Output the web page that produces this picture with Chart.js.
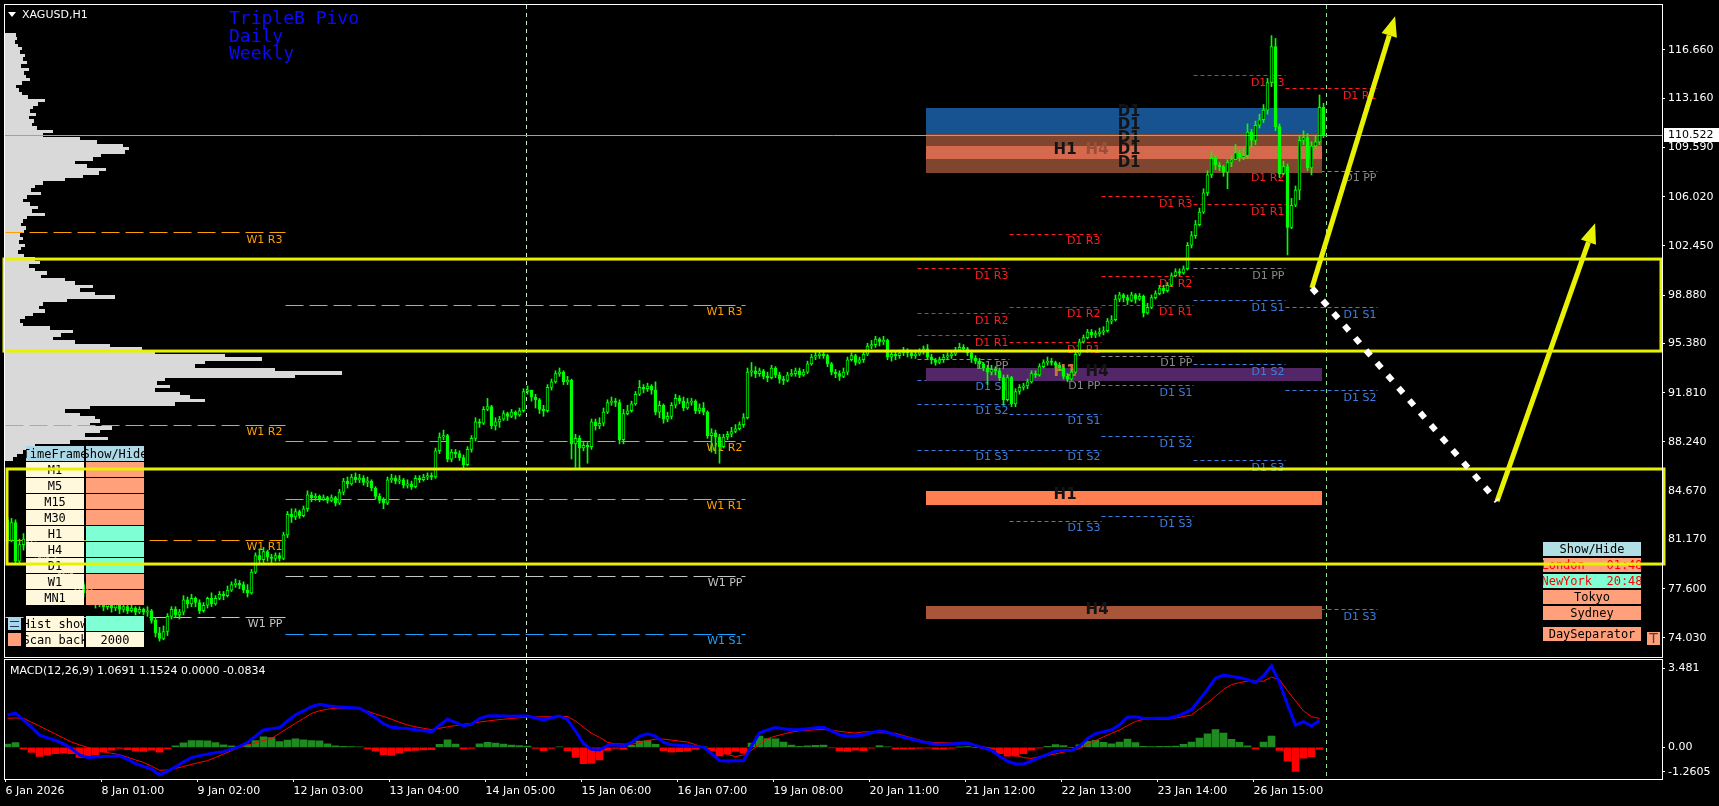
<!DOCTYPE html>
<html>
<head>
<meta charset="utf-8">
<title>XAGUSD,H1</title>
<script src="https://cdn.jsdelivr.net/npm/chart.js"></script>
<style>
  html, body { margin: 0; padding: 0; background: #000; }
  #wrap { position: relative; width: 1719px; height: 806px; background: #000; overflow: hidden; }
  #wrap canvas { position: absolute; left: 0; }
</style>
</head>
<body>
<div id="wrap">
  <canvas id="priceChart" width="1719" height="658" style="top:0"></canvas>
  <canvas id="macdChart" width="1719" height="148" style="top:658px"></canvas>
</div>
<script>
// H1 candles, the open of a bar is the close of the bar before
const firstOpen = 82.6;
const closes = [
  81.1,82.4,79.6,80.8,81.2,80.6,80.9,80.2,79.8,80.3,
  79.6,79.1,79.5,78.7,78.3,78.8,78.0,77.6,77.9,77.3,
  77.5,76.9,76.5,76.8,76.3,76.6,76.2,76.5,76.1,76.3,
  76.0,76.2,75.9,76.1,75.9,76.0,75.3,74.4,74.0,74.5,
  75.6,76.1,75.7,75.9,76.8,76.5,76.9,76.6,76.0,76.4,
  76.9,76.5,76.9,77.2,77.1,77.5,77.9,78.0,77.9,77.5,
  77.3,78.8,80.0,79.7,80.3,79.9,79.8,80.0,79.8,81.5,
  83.0,82.8,83.2,82.9,83.4,84.4,84.2,84.3,84.1,84.2,
  84.0,84.2,83.8,84.6,85.4,85.2,85.7,85.5,85.6,85.3,
  85.4,84.9,84.3,84.0,83.8,85.5,85.6,85.4,85.5,85.1,
  85.2,85.0,85.6,85.5,85.7,85.8,85.7,87.6,88.6,88.7,
  87.0,87.5,87.4,87.1,86.6,87.7,88.5,89.7,89.6,90.6,
  90.8,89.4,89.7,89.9,90.3,90.1,90.4,90.2,90.5,91.9,
  92.0,91.5,91.3,90.6,90.5,92.2,92.6,93.2,93.3,92.6,
  92.7,88.1,88.5,87.8,88.0,87.9,89.7,89.4,89.6,90.4,
  91.1,91.2,91.1,88.4,90.3,90.5,91.0,91.7,92.2,92.1,
  92.3,92.0,90.4,90.9,89.9,90.1,90.9,91.4,91.2,90.7,
  91.1,91.2,90.5,90.7,90.4,88.7,88.9,88.6,87.9,88.6,
  88.8,89.0,89.2,89.5,90.0,93.3,93.4,93.2,93.4,93.0,
  92.9,93.6,93.1,92.8,92.7,93.1,93.2,93.4,93.1,93.3,
  93.9,94.4,94.5,94.6,94.5,93.9,93.3,93.2,93.0,93.3,
  94.2,94.5,94.0,94.2,94.6,95.2,95.3,95.7,95.5,95.6,
  94.4,94.6,94.5,94.7,94.9,94.7,94.5,94.6,94.8,95.0,
  94.4,94.2,94.0,94.2,94.4,94.5,94.6,94.9,95.1,95.0,
  94.7,94.3,94.1,93.9,93.6,93.3,93.5,93.4,92.9,91.3,
  92.9,91.0,91.9,92.2,92.3,92.6,93.2,93.1,93.7,94.0,
  94.1,94.0,93.8,93.6,93.0,92.8,93.3,94.6,95.5,95.8,
  96.2,96.0,96.1,96.2,96.3,97.0,97.1,98.6,98.9,98.7,
  98.5,98.9,98.6,98.8,97.6,98.0,98.7,99.0,99.4,99.2,
  99.6,100.3,100.6,100.5,100.8,102.5,103.2,104.0,104.9,106.3,
  107.6,108.8,108.3,108.2,107.8,108.5,108.7,109.2,108.9,109.0,
  110.7,110.1,111.2,111.6,112.3,114.3,116.9,111.1,107.7,108.2,
  103.8,105.4,106.5,110.1,110.3,108.1,109.7,110.0,112.5,110.522
];
const highs = [
  82.8,82.7,82.6,81.2,81.6,81.4,81.3,81.0,80.5,80.6,
  80.4,79.8,79.9,79.6,79.0,79.1,78.9,78.3,78.2,78.1,
  77.9,77.7,77.2,77.1,77.0,76.9,76.8,76.8,76.7,76.6,
  76.5,76.4,76.3,76.3,76.2,76.3,76.1,75.5,74.8,74.9,
  75.8,76.3,76.3,76.1,77.1,77.0,77.2,77.0,76.8,76.6,
  77.0,77.3,77.1,77.4,77.4,77.8,78.1,78.3,78.2,78.1,
  77.9,79.0,80.2,80.5,80.6,80.4,80.1,80.2,80.2,81.7,
  83.2,83.4,83.4,83.3,83.6,84.7,84.6,84.5,84.4,84.4,
  84.3,84.4,84.3,84.8,85.6,85.7,85.9,86.0,85.9,85.8,
  85.7,85.5,85.0,84.5,84.2,85.7,85.9,85.8,85.8,85.6,
  85.5,85.4,85.8,85.8,85.9,86.0,86.0,87.8,88.9,89.1,
  88.8,87.7,87.7,87.6,87.3,87.9,88.7,90.0,89.9,90.8,
  91.4,90.9,90.0,90.1,90.5,90.4,90.6,90.5,90.7,92.1,
  92.3,92.0,91.7,91.4,90.9,92.4,92.8,93.4,93.6,93.4,
  93.0,92.8,88.8,88.7,88.3,88.2,89.9,89.9,90.0,90.7,
  91.3,91.5,91.4,91.3,90.6,90.9,91.2,91.9,92.7,92.4,
  92.5,92.4,92.6,91.2,91.0,90.4,91.1,91.7,91.6,91.5,
  91.4,91.4,91.3,91.0,91.1,90.5,89.2,89.1,88.8,88.8,
  89.0,89.3,89.5,89.7,90.3,93.6,94.0,93.7,93.6,93.5,
  93.3,93.8,93.7,93.3,93.0,93.3,93.5,93.6,93.6,93.5,
  94.1,94.6,94.8,94.8,94.8,94.6,94.0,93.5,93.4,93.6,
  94.4,94.7,94.6,94.4,94.8,95.4,95.6,95.9,95.8,95.9,
  95.7,94.8,94.8,94.9,95.1,95.0,94.9,94.9,95.0,95.2,
  95.3,94.6,94.3,94.4,94.6,94.7,94.8,95.1,95.4,95.3,
  95.1,94.9,94.5,94.3,94.0,93.8,93.8,93.7,93.6,93.1,
  93.1,93.0,92.1,92.4,92.5,92.8,93.4,93.4,93.9,94.2,
  94.4,94.3,94.1,94.0,93.7,93.2,93.5,94.8,95.7,96.0,
  96.4,96.4,96.3,96.5,96.6,97.2,97.4,98.9,99.1,99.0,
  98.9,99.1,99.0,99.0,98.9,98.3,98.9,99.2,99.6,99.6,
  99.8,100.5,100.8,100.8,101.0,102.7,103.5,104.3,105.2,106.6,
  107.9,109.3,109.0,108.5,108.3,108.7,109.0,109.8,109.4,109.5,
  111.3,110.9,111.5,112.0,112.7,114.6,117.7,117.5,111.3,108.6,
  108.4,105.9,106.8,110.4,110.8,110.6,110.0,110.4,113.4,112.8
];
const lows = [
  80.9,81.0,79.4,79.5,80.4,80.3,80.2,79.9,79.5,79.6,
  79.2,78.8,78.9,78.4,78.0,78.1,77.7,77.3,77.2,77.0,
  76.9,76.6,76.2,76.3,76.0,76.1,75.9,76.0,75.8,75.9,
  75.8,75.9,75.7,75.8,75.7,75.6,75.1,74.1,73.8,73.9,
  74.2,75.4,75.5,75.4,75.7,76.2,76.3,76.3,75.8,75.9,
  76.2,76.3,76.4,76.8,76.8,77.0,77.4,77.7,77.6,77.3,
  77.0,77.2,78.7,79.5,79.5,79.6,79.5,79.6,79.6,79.7,
  81.3,82.4,82.6,82.7,82.8,83.2,83.9,84.0,83.9,84.0,
  83.8,83.9,83.6,83.7,84.4,84.9,85.1,85.3,85.3,85.1,
  85.0,84.7,84.1,83.8,83.4,83.7,85.3,85.2,85.2,84.9,
  84.9,84.8,84.9,85.3,85.4,85.5,85.5,85.6,87.4,88.4,
  86.8,86.8,87.1,86.9,86.3,86.5,87.5,88.3,89.3,89.5,
  90.5,89.2,89.1,89.3,89.8,89.8,90.0,89.9,90.1,90.4,
  91.7,91.2,90.7,90.3,90.1,90.4,92.0,92.5,93.0,92.4,
  92.4,87.0,86.4,86.3,87.6,86.7,87.7,89.1,89.2,89.4,
  90.3,90.9,90.8,88.1,88.1,90.2,90.4,90.9,91.6,91.8,
  91.9,91.7,90.2,90.0,89.6,89.7,89.9,90.7,91.0,90.5,
  90.6,90.9,90.3,90.3,90.2,88.5,87.5,87.4,86.7,87.8,
  88.4,88.6,88.9,89.1,89.3,89.9,93.0,92.9,93.0,92.8,
  92.6,92.8,92.9,92.5,92.4,92.6,93.0,93.0,92.9,93.0,
  93.2,93.8,94.2,94.3,94.3,93.7,93.1,92.9,92.7,92.9,
  93.1,94.1,93.8,93.9,94.0,94.5,95.0,95.1,95.2,95.3,
  94.2,94.1,94.2,94.3,94.5,94.4,94.3,94.3,94.5,94.6,
  94.2,93.9,93.8,93.9,94.0,94.2,94.3,94.5,94.8,94.8,
  94.5,94.0,93.9,93.6,93.4,92.4,93.1,93.1,92.7,90.9,
  91.2,90.8,90.8,91.7,92.0,92.1,92.5,92.9,93.0,93.6,
  93.8,93.8,93.6,93.4,92.8,92.6,92.7,93.2,94.5,95.4,
  95.7,95.8,95.8,95.9,96.0,96.2,96.8,97.0,98.4,98.4,
  98.2,98.4,98.3,98.5,97.3,97.5,97.9,98.6,98.9,99.0,
  99.1,99.5,100.2,100.3,100.4,100.7,102.3,103.0,103.9,104.8,
  106.1,107.4,108.0,107.9,107.5,106.6,108.2,108.9,108.6,108.7,
  108.8,109.6,109.8,111.0,111.4,112.0,114.0,110.8,107.4,107.6,
  101.8,103.7,105.3,105.8,109.8,107.9,107.6,109.5,109.8,110.3
];
const currentPrice = 110.522;

// time axis: one label every 24 bars
const timeLabels = ['6 Jan 2026','8 Jan 01:00','9 Jan 02:00','12 Jan 03:00','13 Jan 04:00','14 Jan 05:00','15 Jan 06:00',
  '16 Jan 07:00','19 Jan 08:00','20 Jan 11:00','21 Jan 12:00','22 Jan 13:00','23 Jan 14:00','26 Jan 15:00'];
const labelEvery = 24;
const priceTicks = [116.66, 113.16, 109.59, 106.02, 102.45, 98.88, 95.38, 91.81, 88.24, 84.67, 81.17, 77.60, 74.03];
const priceMin = 72.65, priceMax = 119.92;

// MACD(12,26,9), read every 2nd bar
const macdStep = 2;
const macdValues = [
  1.29,1.36,1.09,0.80,0.49,0.38,0.28,0.14,-0.04,-0.30,
  -0.40,-0.38,-0.36,-0.35,-0.33,-0.48,-0.65,-0.76,-0.86,-1.10,
  -0.95,-0.78,-0.58,-0.41,-0.33,-0.27,-0.21,-0.17,-0.07,0.04,
  0.20,0.45,0.69,0.74,0.79,1.05,1.30,1.45,1.62,1.72,
  1.66,1.62,1.60,1.58,1.56,1.38,1.18,0.94,0.80,0.77,
  0.75,0.70,0.66,0.62,0.88,1.12,1.00,0.86,0.92,1.15,
  1.25,1.26,1.25,1.24,1.25,1.25,1.17,1.09,1.18,1.25,
  1.10,0.65,0.15,-0.08,-0.10,0.08,0.10,0.05,0.20,0.44,
  0.54,0.45,0.20,0.10,0.08,0.06,0.03,0.01,-0.25,-0.53,
  -0.54,-0.53,-0.53,0.05,0.57,0.70,0.79,0.74,0.70,0.70,
  0.74,0.78,0.80,0.66,0.50,0.44,0.46,0.49,0.58,0.66,
  0.60,0.49,0.40,0.32,0.25,0.18,0.12,0.11,0.13,0.16,
  0.17,0.08,-0.02,-0.12,-0.35,-0.55,-0.66,-0.66,-0.55,-0.40,
  -0.28,-0.15,-0.12,-0.12,0.05,0.35,0.55,0.62,0.70,0.90,
  1.20,1.22,1.16,1.15,1.16,1.16,1.22,1.35,1.50,1.90,
  2.31,2.75,2.88,2.82,2.78,2.70,2.58,2.85,3.25,2.58,
  1.70,0.89,1.02,0.85,1.07
];
const signalValues = [
  1.16,1.17,1.16,1.00,0.85,0.69,0.53,0.37,0.21,0.10,
  0.00,-0.08,-0.17,-0.24,-0.29,-0.39,-0.50,-0.60,-0.75,-0.91,
  -0.90,-0.84,-0.76,-0.68,-0.60,-0.53,-0.40,-0.27,-0.13,0.01,
  0.09,0.18,0.27,0.35,0.56,0.76,0.96,1.15,1.35,1.46,
  1.52,1.56,1.56,1.55,1.54,1.44,1.33,1.23,1.12,1.00,
  0.89,0.82,0.76,0.71,0.76,0.82,0.87,0.92,0.96,1.01,
  1.05,1.09,1.12,1.15,1.18,1.20,1.21,1.22,1.22,1.23,
  1.23,1.05,0.80,0.56,0.40,0.20,0.14,0.13,0.12,0.19,
  0.27,0.33,0.33,0.29,0.25,0.21,0.11,0.00,-0.10,-0.19,
  -0.28,-0.37,-0.30,-0.12,0.12,0.35,0.45,0.53,0.61,0.66,
  0.68,0.70,0.71,0.68,0.64,0.60,0.57,0.62,0.61,0.59,
  0.58,0.56,0.47,0.38,0.29,0.21,0.19,0.18,0.17,0.15,
  0.14,0.08,0.02,-0.04,-0.10,-0.20,-0.31,-0.41,-0.44,-0.37,
  -0.32,-0.26,-0.19,-0.12,-0.05,0.11,0.27,0.42,0.56,0.69,
  0.87,1.03,1.12,1.12,1.12,1.12,1.17,1.23,1.29,1.53,
  1.77,2.04,2.31,2.50,2.58,2.64,2.64,2.64,2.80,2.70,
  2.25,1.85,1.45,1.22,1.15
];
const macdTicks = [3.481, 0, -1.2605];
const macdTickText = ['3.481', '0.00', '-1.2605'];
const macdTitle = 'MACD(12,26,9) 1.0691 1.1524 0.0000 -0.0834';

// volume profile on the left edge, one bin every 0.25 from the top price
const profileTop = 117.75;
const profileStep = 0.25;
const profileVol = [
  11,12,10,13,17,15,20,18,22,16,
  24,19,21,25,17,11,14,17,23,40,
  33,28,25,31,24,29,27,32,48,38,
  75,92,118,124,120,96,88,70,82,101,
  94,78,60,38,30,26,36,22,18,25,
  33,27,40,22,18,16,21,19,15,18,
  14,20,16,13,19,30,35,24,30,42,
  36,60,70,88,75,90,110,62,38,34,
  40,28,20,15,18,45,68,56,48,70,
  105,137,150,220,257,200,190,270,337,290,
  160,152,165,150,175,185,200,170,85,60,
  75,90,95,85,107,95,80,103,65,30,
  22,18,12,8
];

// daily pivots, each day runs 23 bars from its start
const pivotNames = ['R3','R2','R1','PP','S1','S2','S3'];
const dayStart = [227.5, 250.5, 273.5, 296.5, 319.5];
const dayBars = 23;
const dailyPivots = [
  [100.83, 97.57, 95.97, 94.25, 92.73, 90.99, 87.65],
  [103.32, 98.05, 95.46, 92.84, 90.26, 87.65, 82.51],
  [106.05, 100.25, 98.17, 94.47, 92.34, 88.65, 82.85],
  [114.83, 107.89, 105.47, 100.83, 98.51, 93.87, 86.91],
  [null, null, 113.88, 107.89, 98.00, 91.98, 76.10]
];
// weekly pivots
const weeklyNames = ['R3','R2','R1','PP','S1'];
const weekStart = [-0.5, 69.5];
const weekEnd = [69.5, 184.5];
const weeklyPivots = [
  [103.43, 89.50, 81.16, 75.54, null],
  [98.17, 88.31, 84.10, 78.54, 74.35]
];

// supply / demand zones
const zoneFrom = 229.5, zoneTo = 328.5;
const zoneHigh = [112.48, 111.52, 110.57, 109.70, 108.76, 93.62, 84.68, 76.34];
const zoneLow = [111.52, 110.57, 109.70, 108.76, 107.76, 92.68, 83.69, 75.42];
const zoneTags = ['D1', 'D1', 'D1', 'H1 H4 D1', 'D1', 'H1 H4', 'H1', 'H4'];

// hand drawn objects, in (bar, price)
const markerBars = [129.6, 329.6];
const drawnBoxes = [[-0.875, 101.50, 413.375, 94.83], [-0.125, 86.28, 414.125, 79.39]];
const drawnArrows = [[326.1, 99.40, 346.9, 119.10], [372.4, 83.95, 396.9, 104.10]];
const drawnPath = [326.1, 99.40, 372.4, 83.95];

// panels
const tfNames = ['M1','M5','M15','M30','H1','H4','D1','W1','MN1'];
const tfShown = [false, false, false, false, true, true, true, false, false];
const sessionRows = ['London   01:48', 'NewYork  20:48', 'Tokyo', 'Sydney'];
const sessionActive = [false, true, false, false];

// ---- drawing ----
Chart.defaults.font.family = "'DejaVu Sans', sans-serif";
Chart.defaults.font.size = 11;
Chart.defaults.color = '#ffffff';

const xMin = -0.625, xMax = 413.625;
const lime = '#00ff00';
const yellow = '#e8f200';
const zoneFill = ['#175291', '#175291', '#7f452f', '#d4694d', '#7f452f', '#532767', '#ff7f50', '#a9553a'];
const zoneTagColor = { '3:H4': '#9a5038', '5:H1': '#d0703f' };
const tfCol = { H1: 264.4, H4: 272.4, D1: 280.4 };
const markerColors = ['#cfe8d0', '#8fe08f'];

function pivotColor(name, weekly) {
  if (name[0] === 'R') return weekly ? '#ffa000' : '#ff1e1e';
  if (name[0] === 'P') return weekly ? '#c4c4c4' : '#8a8a8a';
  return weekly ? '#1ea0ff' : '#3d7fe0';
}

function dashLine(ctx, x1, x2, y, color, dash) {
  const yy = Math.round(y) + 0.5;
  ctx.strokeStyle = color; ctx.lineWidth = 1; ctx.setLineDash(dash);
  ctx.beginPath(); ctx.moveTo(x1, yy); ctx.lineTo(x2, yy); ctx.stroke();
  ctx.setLineDash([]);
}

function markerLine(ctx, x, top, bottom, color) {
  const xx = Math.round(x) + 0.5;
  ctx.strokeStyle = color; ctx.lineWidth = 1; ctx.setLineDash([4, 4]);
  ctx.beginPath(); ctx.moveTo(xx, top); ctx.lineTo(xx, bottom); ctx.stroke();
  ctx.setLineDash([]);
}

function cell(ctx, x, y, w, h, bg, text, color) {
  ctx.fillStyle = bg;
  ctx.fillRect(x, y, w, h);
  if (!text) return;
  ctx.save();
  ctx.beginPath(); ctx.rect(x, y, w, h); ctx.clip();
  ctx.fillStyle = color || '#000';
  ctx.font = "12px 'DejaVu Sans Mono'";
  ctx.textAlign = 'center'; ctx.textBaseline = 'middle';
  ctx.fillText(text, x + w / 2, y + h / 2 + 1);
  ctx.restore();
}

function arrow(ctx, x1, y1, x2, y2) {
  const a = Math.atan2(y2 - y1, x2 - x1), head = 20, half = 8;
  const bx = x2 - head * Math.cos(a), by = y2 - head * Math.sin(a);
  ctx.lineWidth = 5; ctx.lineCap = 'butt';
  ctx.beginPath(); ctx.moveTo(x1, y1); ctx.lineTo(bx, by); ctx.stroke();
  ctx.beginPath(); ctx.moveTo(x2, y2);
  ctx.lineTo(bx + half * Math.sin(a), by - half * Math.cos(a));
  ctx.lineTo(bx - half * Math.sin(a), by + half * Math.cos(a));
  ctx.closePath(); ctx.fill();
}

function frame(ctx, a) {
  ctx.strokeStyle = '#ffffff'; ctx.lineWidth = 1; ctx.setLineDash([]);
  ctx.strokeRect(a.left - 0.5, a.top - 0.5, a.right - a.left + 1, a.bottom - a.top + 1);
}

const priceOverlay = {
  id: 'priceOverlay',
  beforeDatasetsDraw(chart) {
    const { ctx, chartArea: a } = chart;
    const X = u => chart.scales.x.getPixelForValue(u);
    const Y = p => chart.scales.y.getPixelForValue(p);
    const V = v => chart.scales.vol.getPixelForValue(v);
    ctx.save();
    ctx.beginPath(); ctx.rect(a.left, a.top, a.right - a.left, a.bottom - a.top); ctx.clip();

    // volume profile, rows snapped to whole pixels so they touch
    ctx.fillStyle = '#d9d9d9';
    profileVol.forEach((v, k) => {
      const p = profileTop - k * profileStep;
      const y1 = Math.round(Y(p + profileStep / 2)), y2 = Math.round(Y(p - profileStep / 2));
      ctx.fillRect(Math.round(V(0)), y1, Math.round(V(v) - V(0)), y2 - y1);
    });

    // pivot lines
    weeklyPivots.forEach((levels, w) => {
      levels.forEach((p, k) => {
        if (p === null) return;
        dashLine(ctx, X(weekStart[w]), X(weekEnd[w]), Y(p), pivotColor(weeklyNames[k], true), [18, 6]);
      });
    });
    dailyPivots.forEach((levels, d) => {
      levels.forEach((p, k) => {
        if (p === null) return;
        dashLine(ctx, X(dayStart[d]), X(dayStart[d] + dayBars), Y(p), pivotColor(pivotNames[k], false), [4, 3]);
      });
    });

    // zones
    zoneHigh.forEach((hi, z) => {
      ctx.fillStyle = zoneFill[z];
      const y1 = Math.round(Y(hi)), y2 = Math.round(Y(zoneLow[z]));
      ctx.fillRect(Math.round(X(zoneFrom)), y1, Math.round(X(zoneTo) - X(zoneFrom)), y2 - y1);
    });
    ctx.font = "bold 15px 'DejaVu Sans'";
    ctx.textAlign = 'center'; ctx.textBaseline = 'middle';
    zoneTags.forEach((tags, z) => {
      tags.split(' ').forEach(tf => {
        ctx.fillStyle = zoneTagColor[z + ':' + tf] || '#141414';
        ctx.fillText(tf, X(tfCol[tf]), Y(zoneHigh[z]) + 4.5);
      });
    });

    // pivot labels
    ctx.font = "11px 'DejaVu Sans'";
    ctx.textAlign = 'right'; ctx.textBaseline = 'top';
    weeklyPivots.forEach((levels, w) => {
      levels.forEach((p, k) => {
        if (p === null) return;
        ctx.fillStyle = pivotColor(weeklyNames[k], true);
        ctx.fillText('W1 ' + weeklyNames[k], X(weekEnd[w]) - 3, Y(p) + 2);
      });
    });
    dailyPivots.forEach((levels, d) => {
      levels.forEach((p, k) => {
        if (p === null) return;
        ctx.fillStyle = pivotColor(pivotNames[k], false);
        ctx.fillText('D1 ' + pivotNames[k], X(dayStart[d] + dayBars) - 1, Y(p) + 2);
      });
    });

    // time markers
    markerBars.forEach((b, k) => markerLine(ctx, X(b), a.top, a.bottom, markerColors[k]));
    ctx.restore();
  },
  afterDatasetsDraw(chart) {
    const { ctx, chartArea: a } = chart;
    const X = u => chart.scales.x.getPixelForValue(u);
    const Y = p => chart.scales.y.getPixelForValue(p);
    ctx.save();

    // bid line
    const yp = Math.round(Y(currentPrice)) + 0.5;
    ctx.strokeStyle = '#a0a0a0'; ctx.lineWidth = 1;
    ctx.beginPath(); ctx.moveTo(a.left, yp); ctx.lineTo(a.right, yp); ctx.stroke();

    // symbol caption
    ctx.fillStyle = '#ffffff';
    ctx.beginPath(); ctx.moveTo(8, 12); ctx.lineTo(16, 12); ctx.lineTo(12, 17); ctx.closePath(); ctx.fill();
    ctx.font = "11px 'DejaVu Sans'";
    ctx.textAlign = 'left'; ctx.textBaseline = 'middle';
    ctx.fillText('XAGUSD,H1', 22, 15);

    ctx.fillStyle = '#0a0aff';
    ctx.font = "18px 'DejaVu Sans Mono'";
    ctx.fillText('TripleB Pivo', 229, 19);
    ctx.fillText('Daily', 229, 37);
    ctx.fillText('Weekly', 229, 54);

    // time frame panel
    cell(ctx, 26, 446, 58, 15, '#add8e6', 'TimeFrame');
    cell(ctx, 86, 446, 58, 15, '#add8e6', 'Show/Hide');
    tfNames.forEach((name, k) => {
      const y = 462 + 16 * k;
      cell(ctx, 26, y, 58, 15, '#fff8dc', name);
      cell(ctx, 86, y, 58, 15, tfShown[k] ? '#7fffd4' : '#ffa07a');
    });
    cell(ctx, 8, 617, 13, 13, '#a9d6ea');
    ctx.strokeStyle = '#1c3a5a'; ctx.lineWidth = 1;
    ctx.beginPath(); ctx.moveTo(10, 621.5); ctx.lineTo(19, 621.5); ctx.moveTo(10, 626.5); ctx.lineTo(19, 626.5); ctx.stroke();
    cell(ctx, 26, 616, 58, 15, '#fff8dc', 'Hist show');
    cell(ctx, 86, 616, 58, 15, '#7fffd4');
    cell(ctx, 8, 633, 13, 13, '#ffa07a');
    cell(ctx, 26, 632, 58, 15, '#fff8dc', 'Scan back');
    cell(ctx, 86, 632, 58, 15, '#fff8dc', '2000');

    // sessions panel
    cell(ctx, 1543, 542, 98, 14, '#b0e0e6', 'Show/Hide');
    sessionRows.forEach((txt, k) => {
      const timed = /\d/.test(txt);
      cell(ctx, 1543, 558 + 16 * k, 98, 14, sessionActive[k] ? '#7fffd4' : '#ffa07a', txt, timed ? '#ff0000' : '#000');
    });
    cell(ctx, 1543, 627, 98, 14, '#ffa07a', 'DaySeparator');
    ctx.fillStyle = '#ffa07a'; ctx.fillRect(1647, 632, 13, 13);
    ctx.fillStyle = '#5a4035'; ctx.font = "14px 'DejaVu Sans'";
    ctx.textAlign = 'center'; ctx.textBaseline = 'middle';
    ctx.fillText('T', 1653.5, 639);

    // hand drawn rectangles, arrows and the dotted path
    ctx.strokeStyle = yellow; ctx.fillStyle = yellow; ctx.lineWidth = 3;
    drawnBoxes.forEach(b => {
      ctx.strokeRect(X(b[0]), Y(b[1]), X(b[2]) - X(b[0]), Y(b[3]) - Y(b[1]));
    });
    drawnArrows.forEach(r => arrow(ctx, X(r[0]), Y(r[1]), X(r[2]), Y(r[3])));
    ctx.strokeStyle = '#ffffff'; ctx.lineWidth = 6; ctx.setLineDash([7, 9.5]);
    ctx.beginPath();
    ctx.moveTo(X(drawnPath[0]), Y(drawnPath[1]));
    ctx.lineTo(X(drawnPath[2]), Y(drawnPath[3]));
    ctx.stroke();
    ctx.restore();
  },
  afterDraw(chart) {
    const { ctx, chartArea: a } = chart;
    ctx.save();
    frame(ctx, a);
    const y = Math.round(chart.scales.y.getPixelForValue(currentPrice));
    ctx.fillStyle = '#ffffff';
    ctx.fillRect(a.right + 2, y - 7, 1719 - a.right - 2, 14);
    ctx.fillStyle = '#000000';
    ctx.font = "11px 'DejaVu Sans'";
    ctx.textAlign = 'left'; ctx.textBaseline = 'middle';
    ctx.fillText(currentPrice.toFixed(3), a.right + 6, y + 0.5);
    ctx.restore();
  }
};

const bodyPoints = closes.map((c, i) => ({ x: i, y: [i ? closes[i - 1] : firstOpen, c] }));
const wickPoints = closes.map((c, i) => ({ x: i, y: [lows[i], highs[i]] }));
const bodyColors = bodyPoints.map(p => (p.y[1] >= p.y[0] ? '#000000' : lime));

new Chart(document.getElementById('priceChart'), {
  type: 'bar',
  data: {
    datasets: [
      { label: 'wick', data: wickPoints, backgroundColor: lime, borderWidth: 0,
        barThickness: 1, grouped: false, order: 2 },
      { label: 'body', data: bodyPoints, backgroundColor: bodyColors, borderColor: lime, borderWidth: 1,
        borderSkipped: false, barThickness: 3, minBarLength: 1, grouped: false, order: 1 }
    ]
  },
  options: {
    responsive: false, animation: false, devicePixelRatio: 1, events: [],
    layout: { padding: { top: 5, left: 5, right: 0, bottom: 1 }, autoPadding: false },
    plugins: { legend: { display: false }, tooltip: { enabled: false } },
    scales: {
      x: { type: 'linear', min: xMin, max: xMax, offset: false, display: false, grid: { offset: false } },
      vol: { type: 'linear', axis: 'x', position: 'bottom', min: 0, max: 1657, offset: false,
             display: false, grid: { offset: false } },
      y: {
        type: 'linear', position: 'right', min: priceMin, max: priceMax, beginAtZero: false,
        afterBuildTicks: s => { s.ticks = priceTicks.map(v => ({ value: v })); },
        afterFit: s => { s.width = 57; s.paddingTop = 0; s.paddingBottom = 0; },
        ticks: { autoSkip: false, padding: 3, color: '#ffffff', callback: v => v.toFixed(3) },
        grid: { drawOnChartArea: false, color: '#ffffff', tickLength: 3 },
        border: { display: false }
      }
    }
  },
  plugins: [priceOverlay]
});

// histogram = MACD line minus signal line
const macdPoints = macdValues.map((v, k) => ({ x: k * macdStep, y: v }));
const signalPoints = signalValues.map((v, k) => ({ x: k * macdStep, y: v }));
const histPoints = macdValues.map((v, k) => ({ x: k * macdStep, y: +(v - signalValues[k]).toFixed(3) }));
const macdLabelNudge = [-0.32, 0, 0.28];

const macdOverlay = {
  id: 'macdOverlay',
  beforeDatasetsDraw(chart) {
    const { ctx, chartArea: a } = chart;
    ctx.save();
    markerBars.forEach((b, k) => markerLine(ctx, chart.scales.x.getPixelForValue(b), a.top, a.bottom, markerColors[k]));
    ctx.restore();
  },
  afterDraw(chart) {
    const { ctx, chartArea: a } = chart;
    ctx.save();
    frame(ctx, a);
    ctx.fillStyle = '#ffffff';
    ctx.font = "11px 'DejaVu Sans'";
    ctx.textAlign = 'left'; ctx.textBaseline = 'middle';
    ctx.fillText(macdTitle, 10, a.top + 11);
    ctx.restore();
  }
};

new Chart(document.getElementById('macdChart'), {
  type: 'bar',
  data: {
    datasets: [
      { type: 'line', label: 'MACD', data: macdPoints, borderColor: '#0000ff', borderWidth: 3,
        pointRadius: 0, tension: 0, order: 1 },
      { type: 'line', label: 'Signal', data: signalPoints, borderColor: '#ff0000', borderWidth: 1,
        pointRadius: 0, tension: 0, order: 2 },
      { type: 'bar', label: 'Histogram', data: histPoints,
        backgroundColor: histPoints.map(p => (p.y >= 0 ? '#1f8a1f' : '#ff0000')),
        barThickness: 7, grouped: false, order: 3 }
    ]
  },
  options: {
    responsive: false, animation: false, devicePixelRatio: 1, events: [],
    layout: { padding: { top: 2, left: 5, right: 0, bottom: 0 }, autoPadding: false },
    plugins: { legend: { display: false }, tooltip: { enabled: false } },
    scales: {
      x: {
        type: 'linear', min: xMin, max: xMax, position: 'bottom', offset: false,
        afterBuildTicks: s => { s.ticks = timeLabels.map((t, k) => ({ value: k * labelEvery - 0.5 })); },
        afterFit: s => { s.height = 27; s.paddingLeft = 0; s.paddingRight = 0; },
        ticks: { autoSkip: false, maxRotation: 0, minRotation: 0, align: 'start', padding: 3,
                 color: '#ffffff', callback: (v, i) => timeLabels[i] },
        grid: { drawOnChartArea: false, offset: false, color: '#ffffff', tickLength: 3 },
        border: { display: false }
      },
      y: {
        type: 'linear', position: 'right', min: -1.2605, max: 3.481, beginAtZero: false,
        afterBuildTicks: s => { s.ticks = macdTicks.map((v, k) => ({ value: v + macdLabelNudge[k] })); },
        afterFit: s => { s.width = 57; s.paddingTop = 0; s.paddingBottom = 0; },
        ticks: { autoSkip: false, padding: 3, color: '#ffffff', callback: (v, i) => macdTickText[i] },
        grid: { drawOnChartArea: false, color: '#ffffff', tickLength: 3 },
        border: { display: false }
      }
    }
  },
  plugins: [macdOverlay]
});
</script>
</body>
</html>
